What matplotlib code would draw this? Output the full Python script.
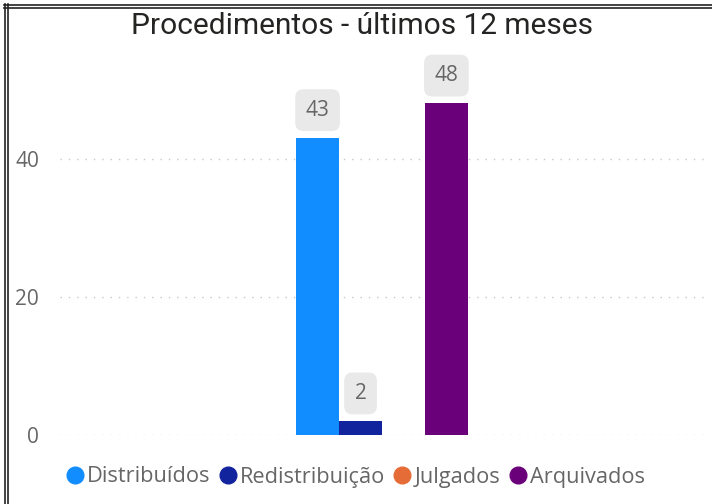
import matplotlib
matplotlib.use("Agg")
import matplotlib.pyplot as plt
from matplotlib.lines import Line2D

title = "Procedimentos - últimos 12 meses"
series = ["Distribuídos", "Redistribuição", "Julgados", "Arquivados"]
values = [43, 2, 0, 48]
colors = ["#118DFF", "#12239E", "#E66C37", "#6B007B"]
yticks = [0, 20, 40]

plt.rcParams['font.family'] = ['Open Sans', 'DejaVu Sans']

fig = plt.figure(figsize=(7.12, 5.04), dpi=100)
W, H = 712, 504
ax = fig.add_axes([60 / W, (H - 435) / H, 644 / W, 380 / H])

offsets = [-1.5, -0.5, 0.5, 1.5]
for off, v, c in zip(offsets, values, colors):
    ax.bar(off, v, width=1.0, color=c, zorder=3)
    if v > 0:
        ax.annotate(str(v), xy=(off, v), xytext=(0, 20), textcoords="offset points",
                    ha="center", va="center", fontsize=15, color="#666666",
                    bbox=dict(boxstyle="round,pad=0.5,rounding_size=0.4",
                              fc="#E9E9E9", ec="none"), zorder=4)

ax.set_xlim(-7.5, 7.5)
ax.set_ylim(0, 55)
ax.set_yticks(yticks)
ax.set_xticks([])
ax.grid(axis="y", color="#C8C8C8", linestyle=(0, (1, 5)), linewidth=1.0, zorder=0)
for s in ax.spines.values():
    s.set_visible(False)
ax.tick_params(axis="y", length=0, pad=15, labelsize=15, labelcolor="#666666")

fig.text(362 / W, 1 - 26 / H, title, ha="center", va="center", fontsize=21.5,
         color="#252423", family=["Roboto", "DejaVu Sans"])

handles = [Line2D([0], [0], marker="o", linestyle="none", markersize=12,
                  markerfacecolor=c, markeredgecolor=c) for c in colors]
leg = fig.legend(handles, series, loc="center left", bbox_to_anchor=(54 / W, 1 - 477 / H),
                 ncol=4, frameon=False, handletextpad=0.0, columnspacing=0.25,
                 handlelength=1.1, fontsize=15.7, labelcolor="#666666", borderaxespad=0)

# border lines (double line on left and top)
for xx in (4.5, 7.5):
    fig.add_artist(Line2D([xx / W, xx / W], [0, 1 - 4 / H], transform=fig.transFigure,
                          color="#222222", linewidth=1.2))
for yy in (4.5, 7.5):
    fig.add_artist(Line2D([4 / W, 1], [1 - yy / H, 1 - yy / H], transform=fig.transFigure,
                          color="#222222", linewidth=1.2))

fig.savefig("out.png", dpi=100, facecolor="white")
